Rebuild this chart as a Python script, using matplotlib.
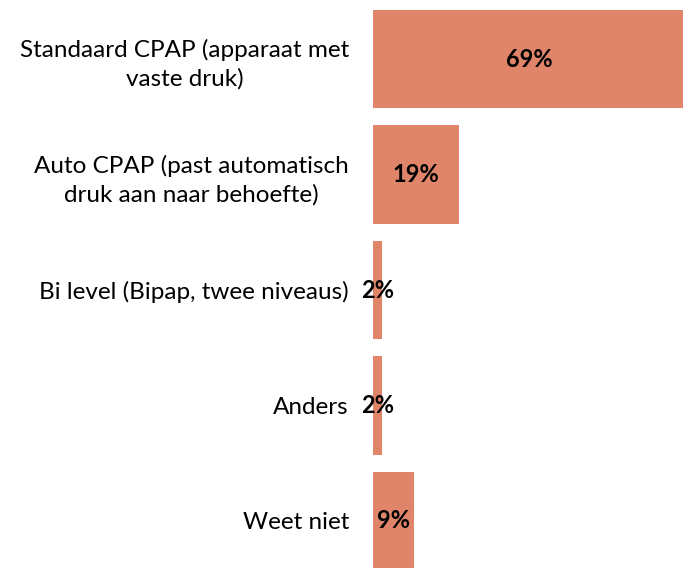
import numpy as np
import matplotlib
matplotlib.use("Agg")
import matplotlib.pyplot as plt

labels = ["Standaard CPAP (apparaat met\nvaste druk)",
          "Auto CPAP (past automatisch\ndruk aan naar behoefte)",
          "Bi level (Bipap, twee niveaus)",
          "Anders",
          "Weet niet"]
values = [69, 19, 2, 2, 9]

bar_color = "#e0856a"

plt.rcParams["font.family"] = ["Lato", "DejaVu Sans"]

fig = plt.figure(figsize=(6.83, 5.68), dpi=100)
ax = fig.add_axes([373 / 683, 0, 1 - 373 / 683, 1])

pos = np.arange(len(values))
ax.barh(pos, values, height=0.85, color=bar_color)
ax.set_xlim(0, 68.5)
ax.set_ylim(4.407, -0.511)

for y, v in zip(pos, values):
    ax.text(v / 2, y, f"{v}%", ha="center", va="center",
            fontsize=17, fontweight="bold", color="black")

ax.set_yticks(pos)
ax.set_yticklabels(labels, fontsize=17.5, ha="center", multialignment="center",
                   linespacing=1.4)
ax.tick_params(axis="y", length=0, pad=0)
# center-aligned tick labels: shift each to sit left of the axis
fig.canvas.draw()
renderer = fig.canvas.get_renderer()
for t in ax.get_yticklabels():
    bb = t.get_window_extent(renderer)
    t.set_x(-(bb.width / 2 + 24) / ax.bbox.width)
ax.set_xticks([])
for s in ax.spines.values():
    s.set_visible(False)

fig.savefig("out.png", dpi=100)
